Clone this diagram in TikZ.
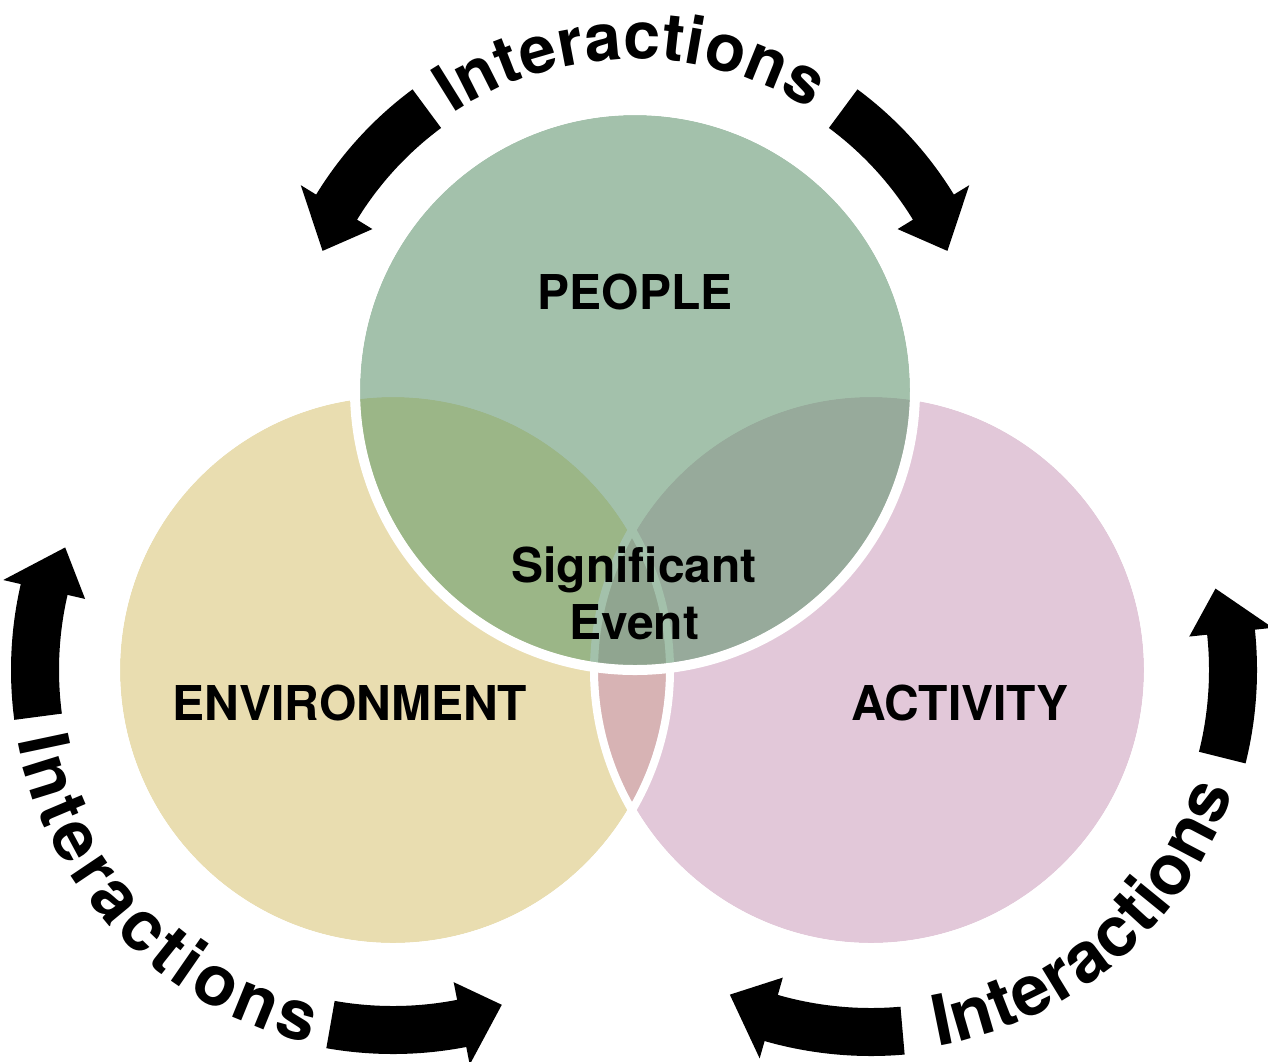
\documentclass[tikz,border=0pt]{standalone}
\usepackage{fontspec}
\setmainfont{TeX Gyre Heros}
\usetikzlibrary{decorations.text}
\definecolor{envcol}{HTML}{E9DDB0}
\definecolor{actcol}{HTML}{E2C8D9}
\definecolor{lenscol}{HTML}{D7B3B4}
\definecolor{peocol}{HTML}{A3C1AB}
\definecolor{pecol}{HTML}{9BB687}
\definecolor{pacol}{HTML}{97AA9B}
\definecolor{peacol}{HTML}{90A590}
\tikzset{
  lbl/.style={font=\fontsize{48}{57}\selectfont\bfseries, text=black, inner sep=0pt, align=center},
  ring/.style={draw=white, line width=8pt},
  arcword/.style={decorate, decoration={text along path,
      text={|\fontsize{#1}{#1}\selectfont\bfseries|Interactions},
      text align={fit to path}}},
}
% curved arrow: radius, body start angle, head base angle, tip angle
\newcommand\iarrow[4]{%
  \fill[black] (#2:{#1+24}) arc[start angle=#2, end angle=#3, radius={#1+24}]
    -- (#3:{#1+42}) -- (#4:{#1-8}) -- (#3:{#1-42}) -- (#3:{#1-24})
    arc[start angle=#3, end angle=#2, radius={#1-24}] -- cycle;}
\begin{document}
\begin{tikzpicture}[x=1pt,y=1pt]
\useasboundingbox (0,0) rectangle (1268,-1061);
\coordinate (P) at (635,-390);
\coordinate (E) at (393,-670);
\coordinate (A) at (871,-670);
% lower circles
\fill[envcol] (E) circle[radius=273];
\fill[actcol] (A) circle[radius=273];
\begin{scope}
  \clip (E) circle[radius=273];
  \fill[lenscol] (A) circle[radius=273];
\end{scope}
\draw[ring] (E) circle[radius=277];
\draw[ring] (A) circle[radius=277];
% top circle
\fill[peocol] (P) circle[radius=275];
\begin{scope}
  \clip (P) circle[radius=275];
  \fill[pecol] (E) circle[radius=273];
  \fill[pacol] (A) circle[radius=273];
  \begin{scope}
    \clip (E) circle[radius=273];
    \fill[peacol] (A) circle[radius=273];
  \end{scope}
  \draw[ring, draw=peocol] (E) circle[radius=277];
  \draw[ring, draw=peocol] (A) circle[radius=277];
\end{scope}
\draw[draw=white, line width=10pt] (P) circle[radius=280];
% labels
\node[lbl] (people) at (635,-292) {PEOPLE};
\node[lbl] (event) at (634,-593) {Significant\\Event};
\node[lbl] (env) at (350,-703) {ENVIRONMENT};
\node[lbl] (act) at (960,-703) {ACTIVITY};
% interaction arrows
\begin{scope}[shift={(P)}]
  \iarrow{350}{126.5}{148.5}{156}
  \iarrow{350}{53.5}{31.5}{24}
  \path[arcword=66] (123.5:331) arc[start angle=123.5, end angle=58, radius=331];
\end{scope}
\begin{scope}[shift={(E)}]
  \iarrow{358}{187.5}{167}{159.5}
  \iarrow{360}{260}{281}{288}
  \path[arcword=70] (190.5:382) arc[start angle=190.5, end angle=257.5, radius=382];
\end{scope}
\begin{scope}[shift={(A)}]
  \iarrow{362}{275}{254}{246.5}
  \iarrow{362}{346}{366}{373.3}
  \path[arcword=70] (280:382) arc[start angle=280, end angle=341.5, radius=382];
\end{scope}
\end{tikzpicture}
\end{document}
